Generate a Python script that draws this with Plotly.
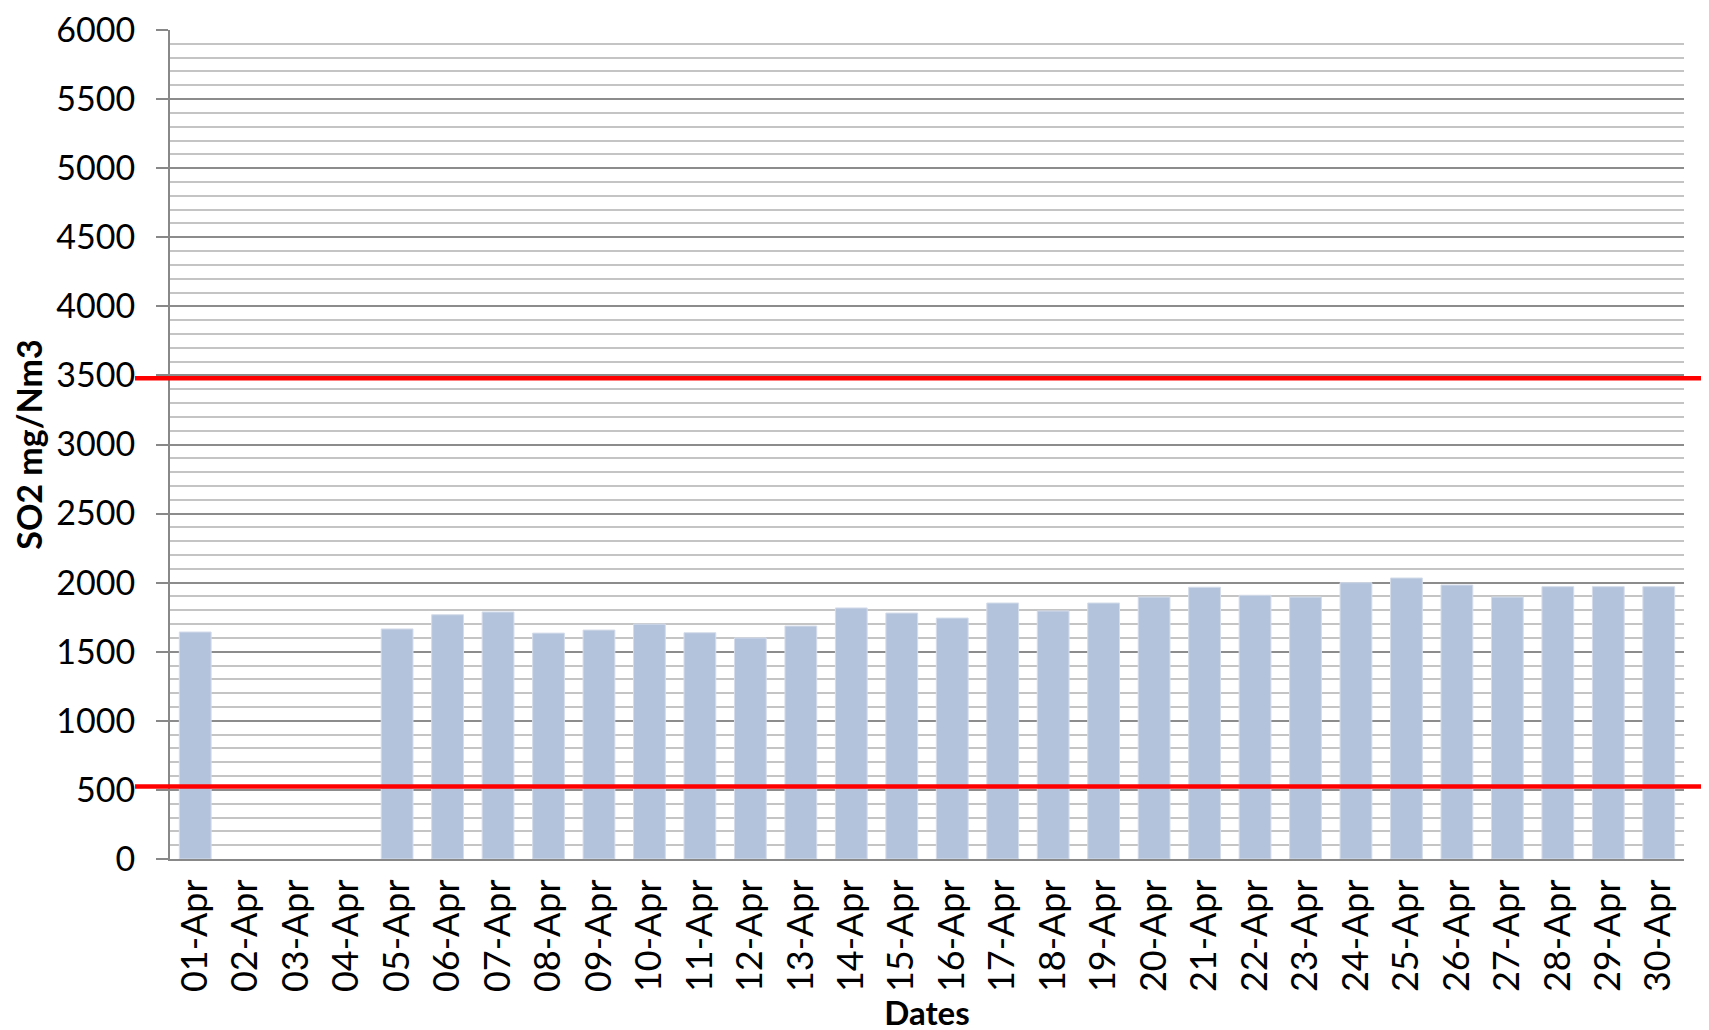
import plotly.graph_objects as go

dates = [f"{d:02d}-Apr" for d in range(1, 31)]
so2_values = [1643, None, None, None, 1665, 1768, 1788, 1635, 1657, 1700,
              1638, 1600, 1686, 1817, 1780, 1744, 1853, 1795, 1853, 1896,
              1967, 1909, 1896, 2000, 2034, 1983, 1896, 1971, 1971, 1971]
upper_limit = 3480
lower_limit = 525
y_ticks = list(range(0, 6001, 500))

FONT = "Lato"

fig = go.Figure()
fig.add_trace(go.Bar(
    x=dates, y=so2_values,
    marker=dict(color="#B4C3DC", line=dict(color="#D5DDEB", width=1)),
    showlegend=False,
))

for lim in (upper_limit, lower_limit):
    fig.add_shape(type="line", xref="paper", yref="y",
                  x0=-0.0231, x1=1.03, y0=lim, y1=lim,
                  line=dict(color="#FF0000", width=4.5), layer="above")

fig.update_layout(
    width=1709, height=1030,
    margin=dict(l=162, r=33, t=22, b=179, autoexpand=False),
    paper_bgcolor="white", plot_bgcolor="white",
    bargap=0.37,
    font=dict(family=FONT, size=33, color="black"),
)

fig.update_xaxes(
    type="category",
    tickangle=-90,
    tickfont=dict(family=FONT, size=36, color="black"),
    ticklabelstandoff=4,
    showline=True, linecolor="#888888", linewidth=2,
    showgrid=False, ticks="", automargin=False,
    title=dict(text="<b>Dates</b>", font=dict(family=FONT, size=33, color="black"), standoff=10),
)

fig.update_yaxes(
    range=[0, 6000],
    tickvals=y_ticks, ticktext=[str(v) for v in y_ticks],
    tickfont=dict(family=FONT, size=34, color="black"),
    ticklabelstandoff=14,
    ticklabeloverflow="allow",
    showline=True, linecolor="#888888", linewidth=2,
    ticks="outside", ticklen=12, tickcolor="#888888", tickwidth=2,
    showgrid=True, gridcolor="#8C8C8C", gridwidth=2,
    minor=dict(dtick=100, showgrid=True, gridcolor="#C4C4C4", gridwidth=2, ticks=""),
    zeroline=False, automargin=False,
    title=dict(text="<b>SO2 mg/Nm3</b>", font=dict(family=FONT, size=34, color="black"), standoff=16),
)

fig.write_html("out.html")
